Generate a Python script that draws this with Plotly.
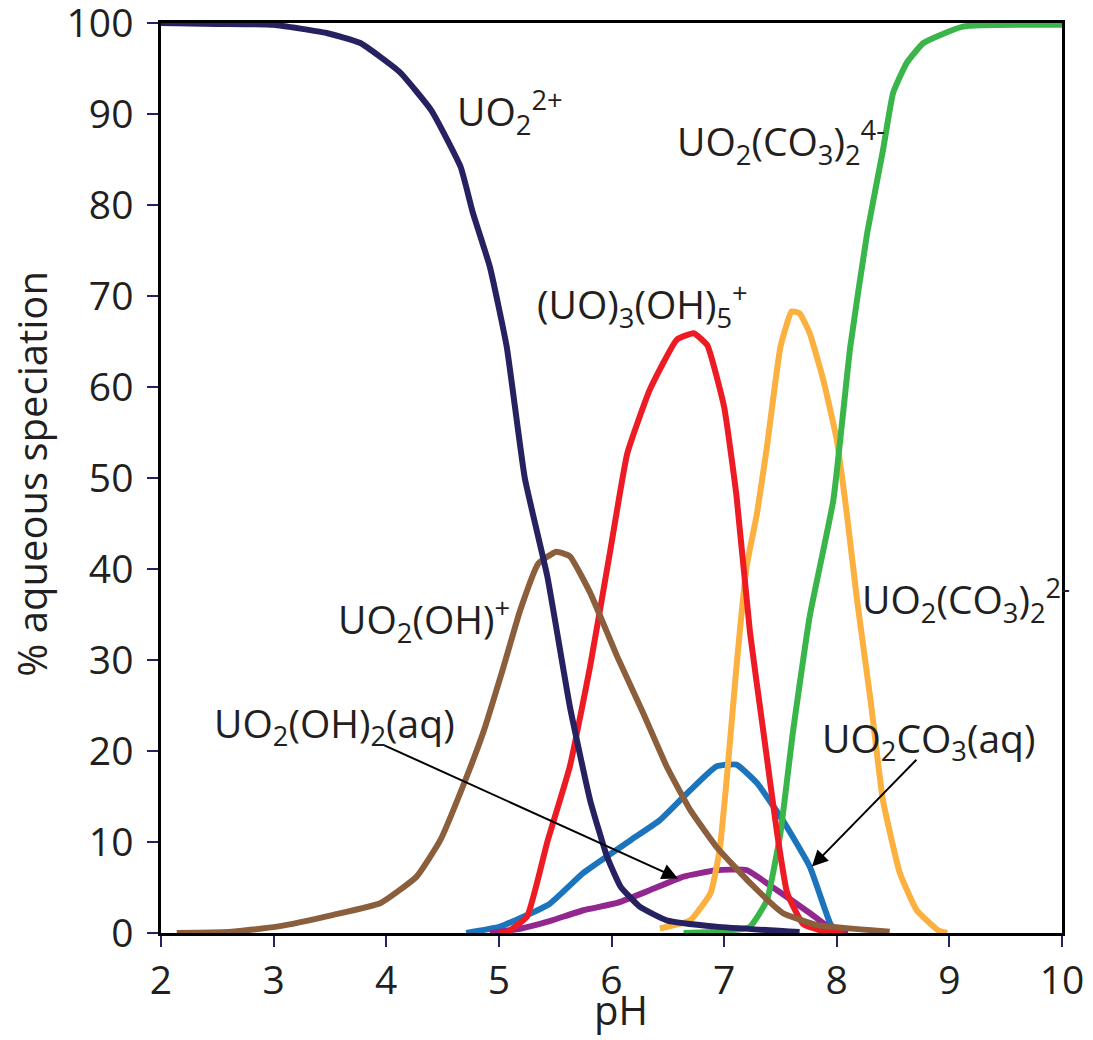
import plotly.graph_objects as go

# pH grid points and % aqueous speciation for each uranyl species
ph_uo2 = [2.0, 2.5, 3.0, 3.47, 3.77, 4.12, 4.4, 4.66, 4.77, 4.92, 5.07, 5.23, 5.43, 5.63, 5.81, 5.96, 6.08, 6.25, 6.49, 6.93, 7.67]
pct_uo2 = [100, 99.9, 99.8, 98.9, 97.8, 94.6, 90.4, 84.2, 79.1, 73.2, 64.4, 50, 39.2, 24.9, 14.6, 8.4, 5.1, 2.9, 1.4, 0.7, 0.1]

ph_uo2oh = [2.14, 2.6, 3.03, 3.53, 3.95, 4.27, 4.48, 4.68, 4.86, 5.04, 5.19, 5.35, 5.51, 5.63, 5.81, 6.05, 6.28, 6.49, 6.70, 6.93, 7.23, 7.52, 7.82, 8.47]
pct_uo2oh = [0, 0.1, 0.7, 2.0, 3.3, 6.2, 10.2, 16.1, 22, 29.2, 35.5, 40.6, 41.9, 41.4, 37.4, 30.4, 24.2, 18.3, 13.5, 9.5, 5.5, 2.2, 0.9, 0.15]

ph_tri = [5.0, 5.07, 5.25, 5.43, 5.63, 5.81, 5.99, 6.14, 6.34, 6.58, 6.73, 6.85, 7.0, 7.11, 7.23, 7.35, 7.47, 7.56, 7.7, 7.85, 8.06]
pct_tri = [0, 0.1, 1.8, 10, 18.3, 29.3, 42.1, 52.7, 59.7, 65.2, 65.9, 64.6, 57.8, 48, 33, 22, 11, 4.4, 1.0, 0.3, 0]

ph_dicarb2 = [6.43, 6.7, 6.88, 6.96, 7.02, 7.11, 7.2, 7.29, 7.38, 7.5, 7.6, 7.67, 7.76, 7.88, 8.0, 8.09, 8.18, 8.3, 8.41, 8.56, 8.71, 8.9, 8.98]
pct_dicarb2 = [0.5, 1.4, 4.4, 9.1, 16.5, 29.3, 40.3, 46, 53.4, 64.4, 68.3, 68.1, 65.9, 60.8, 54.2, 46, 36.6, 25.6, 14.6, 6.6, 2.5, 0.3, 0]

ph_dicarb4 = [6.64, 7.0, 7.23, 7.38, 7.5, 7.61, 7.76, 7.97, 8.12, 8.27, 8.41, 8.5, 8.62, 8.77, 9.12, 10.0]
pct_dicarb4 = [0, 0.2, 0.7, 3.6, 11, 22, 34.8, 47.6, 64.4, 76.9, 86, 92.3, 95.6, 97.8, 99.6, 99.8]

ph_carb = [4.71, 5.01, 5.45, 5.75, 6.17, 6.43, 6.70, 6.93, 7.11, 7.29, 7.52, 7.76, 7.94, 8.0]
pct_carb = [0, 0.7, 3.2, 6.6, 10.2, 12.4, 15.7, 18.3, 18.5, 16.5, 12.4, 7.3, 1.1, 0]

ph_uo2oh2 = [4.92, 5.2, 5.45, 5.75, 6.05, 6.34, 6.64, 6.93, 7.2, 7.47, 7.76, 7.97, 8.1]
pct_uo2oh2 = [0, 0.5, 1.3, 2.5, 3.3, 4.7, 6.2, 6.9, 6.9, 4.7, 2.2, 0.3, 0]

x_ticks = [2, 3, 4, 5, 6, 7, 8, 9, 10]
y_ticks = [0, 10, 20, 30, 40, 50, 60, 70, 80, 90, 100]

NAVY = "#262262"
BROWN = "#8B5E3C"
RED = "#ED1C24"
ORANGE = "#FBB040"
GREEN = "#39B54A"
BLUE = "#1C75BC"
PURPLE = "#92278F"
INK = "#231F20"

FONT = "Open Sans"
FS = 39

series = [
    (ph_carb, pct_carb, BLUE),
    (ph_uo2oh2, pct_uo2oh2, PURPLE),
    (ph_dicarb2, pct_dicarb2, ORANGE),
    (ph_dicarb4, pct_dicarb4, GREEN),
    (ph_tri, pct_tri, RED),
    (ph_uo2oh, pct_uo2oh, BROWN),
    (ph_uo2, pct_uo2, NAVY),
]

fig = go.Figure()
for xs, ys, col in series:
    fig.add_trace(go.Scatter(
        x=xs, y=ys, mode="lines",
        line=dict(color=col, width=6, shape="spline", smoothing=0.4),
        showlegend=False, hoverinfo="skip",
    ))

# species labels: (text, pH of left edge, % at vertical middle)
labels = [
    ("UO<sub>2</sub><sup>2+</sup>", 4.61, 90.2),
    ("UO<sub>2</sub>(CO<sub>3</sub>)<sub>2</sub><sup>4-</sup>", 6.56, 86.9),
    ("(UO)<sub>3</sub>(OH)<sub>5</sub><sup>+</sup>", 5.32, 69.0),
    ("UO<sub>2</sub>(OH)<sup>+</sup>", 3.55, 34.4),
    ("UO<sub>2</sub>(OH)<sub>2</sub>(aq)", 2.45, 22.9),
    ("UO<sub>2</sub>(CO<sub>3</sub>)<sub>2</sub><sup>2-</sup>", 8.21, 36.6),
    ("UO<sub>2</sub>CO<sub>3</sub>(aq)", 7.85, 21.2),
]
for txt, lx, ly in labels:
    fig.add_annotation(
        x=lx, y=ly, xref="x", yref="y", text=txt, showarrow=False,
        xanchor="left", yanchor="middle",
        font=dict(family=FONT, size=FS, color=INK),
    )

# pointer arrows: (tip pH, tip %, tail pH, tail %)
arrows = [
    (6.59, 6.0, 3.97, 20.7),
    (7.78, 7.3, 8.72, 19.2),
]
for tx, ty, sx, sy in arrows:
    fig.add_annotation(
        x=tx, y=ty, ax=sx, ay=sy, xref="x", yref="y", axref="x", ayref="y",
        text="", showarrow=True, arrowhead=2, arrowsize=1.6, arrowwidth=2,
        arrowcolor="#000000",
    )

# axis titles
fig.add_annotation(
    x=-0.144, y=0.505, xref="paper", yref="paper",
    text="% aqueous speciation", showarrow=False, textangle=-90,
    xanchor="center", yanchor="middle",
    font=dict(family=FONT, size=40, color=INK),
)
fig.add_annotation(
    x=0.51, y=-0.1165, xref="paper", yref="paper",
    text="pH", showarrow=False, xanchor="center", yanchor="bottom",
    font=dict(family=FONT, size=40, color=INK),
)

fig.update_xaxes(
    range=[2, 10], tickvals=x_ticks, ticktext=[str(v) for v in x_ticks],
    showline=True, linecolor="#000000", linewidth=2.5, mirror=True,
    ticks="outside", ticklen=11, tickwidth=2, tickcolor=NAVY,
    showgrid=False, zeroline=False, ticklabeloverflow="allow",
    automargin=False,
    tickfont=dict(family=FONT, size=FS, color=INK),
)
fig.update_yaxes(
    range=[0, 100], tickvals=y_ticks, ticktext=[str(v) for v in y_ticks],
    showline=True, linecolor="#000000", linewidth=2.5, mirror=True,
    ticks="outside", ticklen=11, tickwidth=2, tickcolor=NAVY,
    showgrid=False, zeroline=False, ticklabeloverflow="allow",
    ticklabelstandoff=6, automargin=False,
    tickfont=dict(family=FONT, size=FS, color=INK),
)

fig.update_layout(
    width=1093, height=1040,
    margin=dict(l=161, r=31, t=23, b=107, autoexpand=False),
    plot_bgcolor="#FFFFFF", paper_bgcolor="#FFFFFF",
)

fig.write_html("out.html")
